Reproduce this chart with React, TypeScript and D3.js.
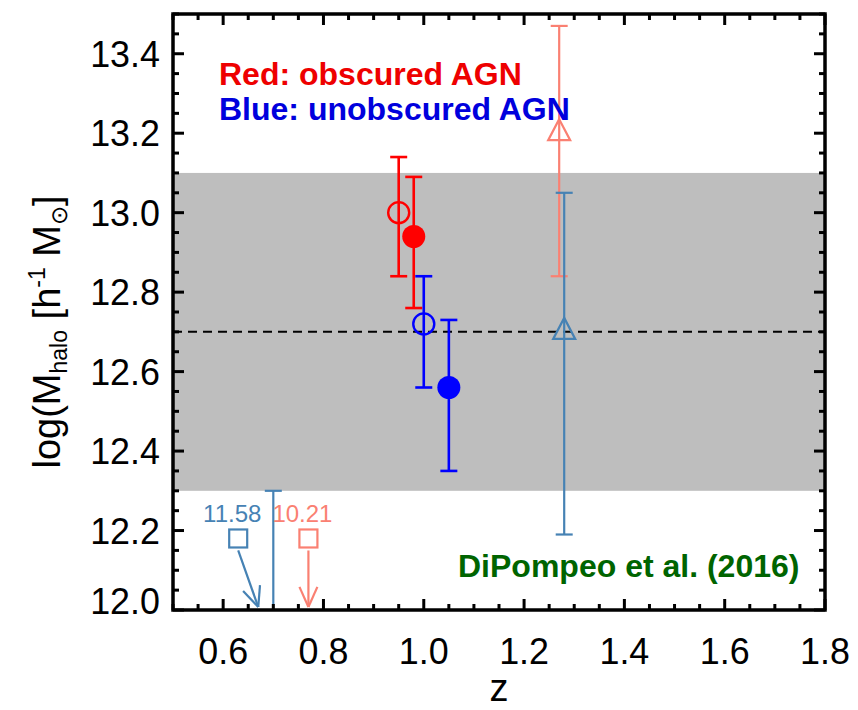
import * as d3 from "d3";

const W = 858;
const H = 710;

const X_TICKS = [0.6, 0.8, 1.0, 1.2, 1.4, 1.6, 1.8];
const Y_TICKS = [12.0, 12.2, 12.4, 12.6, 12.8, 13.0, 13.2, 13.4];

// obscured (red) / unobscured (blue) AGN, open and filled symbols
const AGN_Z = [0.95, 0.98, 1.0, 1.05];
const AGN_M = [13.0, 12.94, 12.72, 12.56];
const AGN_LO = [12.84, 12.76, 12.56, 12.35];
const AGN_HI = [13.14, 13.09, 12.84, 12.73];
const AGN_COLOR = ["#ff0000", "#ff0000", "#0000ff", "#0000ff"];
const AGN_FILLED = [false, true, false, true];

// DiPompeo et al. (2016) triangles
const DIP_Z = [1.27, 1.28];
const DIP_M = [13.2, 12.7];
const DIP_LO = [12.84, 12.19];
const DIP_HI = [13.47, 13.05];
const DIP_COLOR = ["#fa8072", "#4682b4"];

// upper limits in the low-z corner
const LIM_Z = [0.63, 0.77];
const LIM_M = [12.18, 12.18];
const LIM_LABEL = ["11.58", "10.21"];
const LIM_TIP_Z = [0.67, 0.77];
const LIM_TIP_M = [12.0, 12.0];
const LIM_COLOR = ["#4682b4", "#fa8072"];

const BAR_Z = 0.7;
const BAR_HI = 12.3;
const BAR_LO = 11.9;

const BAND = [12.3, 13.1];
const MEAN = 12.7;

const FONT = "'Liberation Sans', Arial, Helvetica, sans-serif";

const x = d3.scaleLinear().domain([0.5, 1.8]).range([173, 825]);
const y = d3.scaleLinear().domain([12.0, 13.5]).range([610, 14]);

const xMinor = d3.range(0.5, 1.8001, 0.05);
const yMinor = d3.range(12.0, 13.5001, 0.05);
const isMajor = (v: number) => Math.abs(v * 5 - Math.round(v * 5)) < 1e-6;

function Txt({ x: tx, y: ty, anchor = "start", size, weight = "normal", fill = "#000", squeeze = 1, children }: any) {
  return (
    <text
      transform={`translate(${tx},${ty}) scale(${squeeze},1)`}
      textAnchor={anchor}
      fontSize={size}
      fontWeight={weight}
      fill={fill}
      fontFamily={FONT}
    >
      {children}
    </text>
  );
}

function ErrBar({ z, lo, hi, color, width, cap = 8.5 }: any) {
  const cx = x(z);
  const top = y(Math.min(hi, 13.5));
  const bot = y(Math.max(lo, 12.0));
  return (
    <g stroke={color} strokeWidth={width}>
      <line x1={cx} x2={cx} y1={top} y2={bot} />
      {hi <= 13.5 && <line x1={cx - cap} x2={cx + cap} y1={top} y2={top} />}
      {lo >= 12.0 && <line x1={cx - cap} x2={cx + cap} y1={bot} y2={bot} />}
    </g>
  );
}

export default function App() {
  const [x0, x1] = x.range();
  const [y0, y1] = y.range();

  return (
    <svg
      width={W}
      height={H}
      viewBox={`0 0 ${W} ${H}`}
      style={{ position: "absolute", left: 0, top: 0, background: "#fff" }}
    >
      <rect x={0} y={0} width={W} height={H} fill="#fff" />

      {/* shaded range and mean */}
      <rect x={x0} y={y(BAND[1])} width={x1 - x0} height={y(BAND[0]) - y(BAND[1])} fill="#bebebe" />
      <line x1={x0} x2={x1} y1={y(MEAN)} y2={y(MEAN)} stroke="#000" strokeWidth={2} strokeDasharray="9 6" />

      {/* DiPompeo et al. triangles */}
      {DIP_Z.map((z, i) => (
        <g key={`dip-${i}`}>
          <ErrBar z={z} lo={DIP_LO[i]} hi={DIP_HI[i]} color={DIP_COLOR[i]} width={2.2} />
          <path
            d={`M${x(z)},${y(DIP_M[i]) - 14} L${x(z) + 11},${y(DIP_M[i]) + 7} L${x(z) - 11},${y(DIP_M[i]) + 7} Z`}
            fill="none"
            stroke={DIP_COLOR[i]}
            strokeWidth={2.2}
          />
        </g>
      ))}

      {/* AGN points */}
      {AGN_Z.map((z, i) => (
        <g key={`agn-${i}`}>
          <ErrBar z={z} lo={AGN_LO[i]} hi={AGN_HI[i]} color={AGN_COLOR[i]} width={2.6} />
          <circle
            cx={x(z)}
            cy={y(AGN_M[i])}
            r={AGN_FILLED[i] ? 11.5 : 10.5}
            fill={AGN_FILLED[i] ? AGN_COLOR[i] : "none"}
            stroke={AGN_COLOR[i]}
            strokeWidth={AGN_FILLED[i] ? 0 : 2.4}
          />
        </g>
      ))}

      {/* upper limits */}
      <ErrBar z={BAR_Z} lo={BAR_LO} hi={BAR_HI} color="#4682b4" width={2.2} />
      {LIM_Z.map((z, i) => {
        const sx = x(z);
        const sy = y(LIM_M[i]);
        const tx = x(LIM_TIP_Z[i]);
        const ty = y(LIM_TIP_M[i]) - 3;
        const ang = Math.atan2(ty - (sy + 12), tx - sx);
        const head = 22;
        const spread = 0.42;
        return (
          <g key={`lim-${i}`} stroke={LIM_COLOR[i]} strokeWidth={2.2} fill="none">
            <rect x={sx - 9} y={sy - 9} width={18} height={18} />
            <line x1={sx} y1={sy + 12} x2={tx} y2={ty} />
            <line
              x1={tx}
              y1={ty}
              x2={tx - head * Math.cos(ang - spread)}
              y2={ty - head * Math.sin(ang - spread)}
            />
            <line
              x1={tx}
              y1={ty}
              x2={tx - head * Math.cos(ang + spread)}
              y2={ty - head * Math.sin(ang + spread)}
            />
          </g>
        );
      })}
      {LIM_Z.map((z, i) => (
        <Txt key={`liml-${i}`} x={x(z) - 6} y={y(LIM_M[i]) - 16} anchor="middle" size={24} fill={LIM_COLOR[i]}>
          {LIM_LABEL[i]}
        </Txt>
      ))}

      {/* frame and ticks */}
      <g stroke="#000" strokeWidth={3}>
        {xMinor.map((v) => {
          const len = isMajor(v) ? 11 : 6;
          return (
            <g key={`xt-${v.toFixed(2)}`}>
              <line x1={x(v)} x2={x(v)} y1={y0} y2={y0 - len} />
              <line x1={x(v)} x2={x(v)} y1={y1} y2={y1 + len} />
            </g>
          );
        })}
        {yMinor.map((v) => {
          const len = isMajor(v) ? 11 : 6;
          return (
            <g key={`yt-${v.toFixed(2)}`}>
              <line x1={x0} x2={x0 + len} y1={y(v)} y2={y(v)} />
              <line x1={x1} x2={x1 - len} y1={y(v)} y2={y(v)} />
            </g>
          );
        })}
      </g>
      <rect x={x0} y={y1} width={x1 - x0} height={y0 - y1} fill="none" stroke="#000" strokeWidth={3.5} />

      {X_TICKS.map((v) => (
        <Txt key={`xl-${v}`} x={x(v)} y={664} anchor="middle" size={37} squeeze={0.97}>
          {v.toFixed(1)}
        </Txt>
      ))}
      {Y_TICKS.map((v, i) => (
        <Txt key={`yl-${v}`} x={160} y={y(v) + 13 - (i === 0 ? 9 : 0)} anchor="end" size={37} squeeze={0.97}>
          {v.toFixed(1)}
        </Txt>
      ))}

      <Txt x={(x0 + x1) / 2} y={701} anchor="middle" size={38}>
        z
      </Txt>

      <g transform={`translate(60,332) rotate(-90)`}>
        <text textAnchor="middle" fontSize={38} fontFamily={FONT} fill="#000">
          log(M
          <tspan fontSize={23} dy={7}>halo</tspan>
          <tspan dy={-7}> [h</tspan>
          <tspan fontSize={23} dy={-15}>-1</tspan>
          <tspan dy={15}> M</tspan>
          <tspan fontSize={23} dy={7}>⊙</tspan>
          <tspan dy={-7}>]</tspan>
        </text>
      </g>

      <Txt x={219} y={85} size={32} weight="bold" fill="#ee0000">
        Red: obscured AGN
      </Txt>
      <Txt x={219} y={120} size={32} weight="bold" fill="#0000dd">
        Blue: unobscured AGN
      </Txt>
      <Txt x={458} y={577} size={32} weight="bold" fill="#006400">
        DiPompeo et al. (2016)
      </Txt>
    </svg>
  );
}
